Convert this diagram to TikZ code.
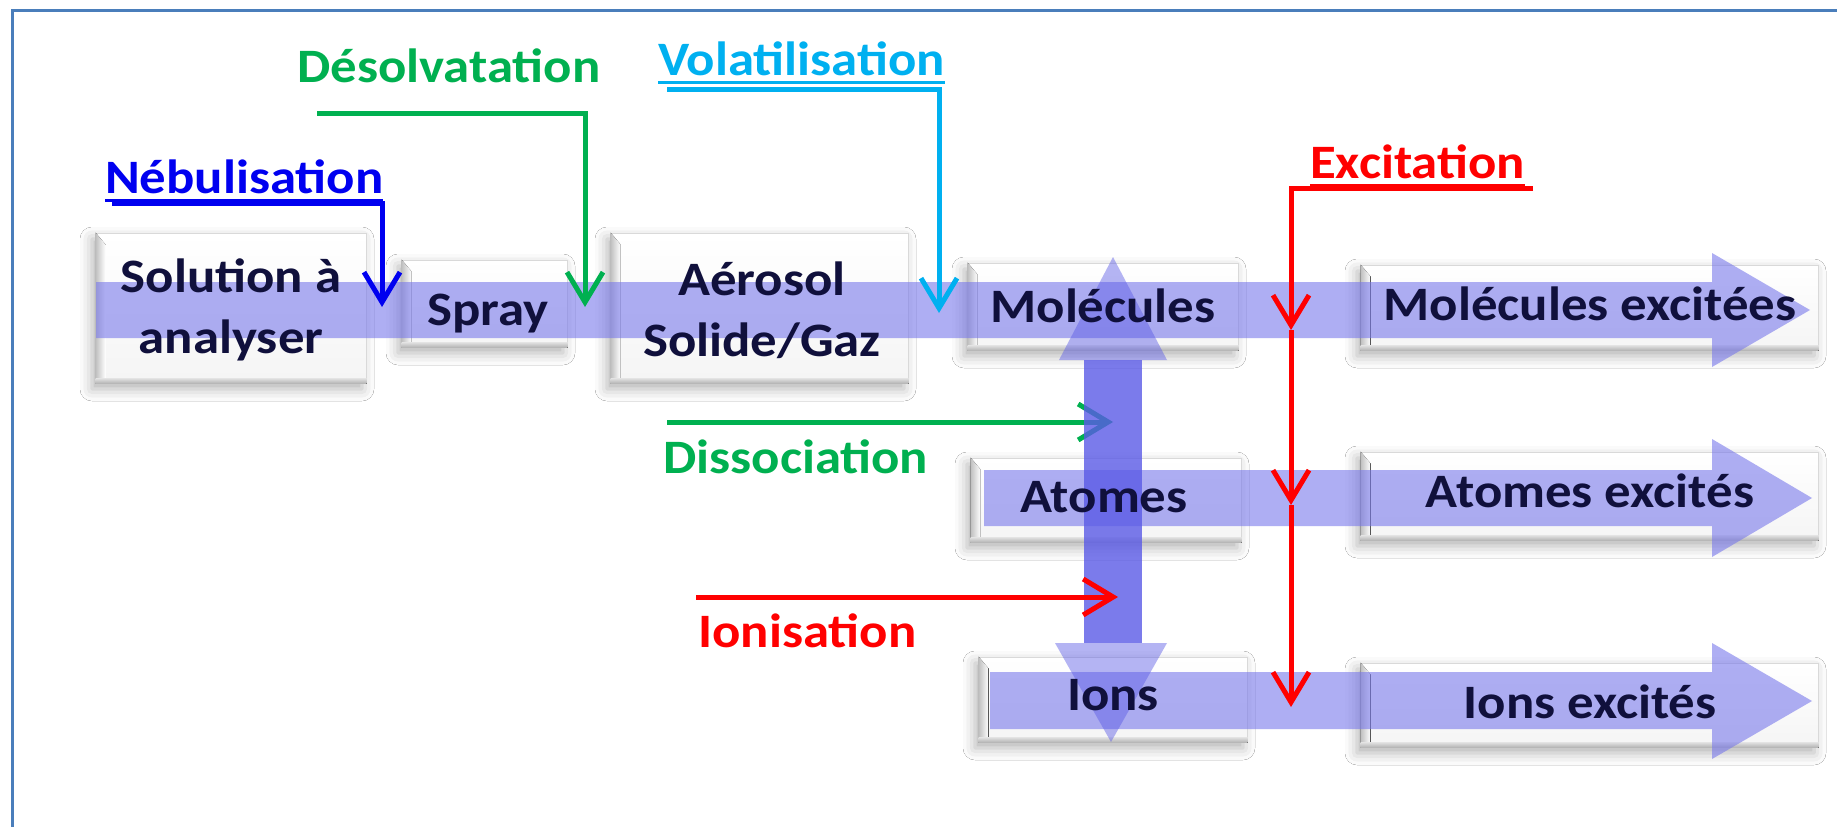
\documentclass[tikz,border=0pt]{standalone}
\usepackage{fontspec}
\newfontfamily\labfont{Carlito}[FakeStretch=1.1]
\usetikzlibrary{arrows.meta,shadows.blur,calc}

\definecolor{framec}{RGB}{74,126,187}
\definecolor{nebc}{RGB}{0,0,240}
\definecolor{desc}{RGB}{0,176,80}
\definecolor{volc}{RGB}{0,176,240}
\definecolor{redc}{RGB}{255,0,0}
\definecolor{bandc}{RGB}{120,120,235}
\definecolor{shaftc}{RGB}{90,90,230}
\definecolor{boxtext}{RGB}{16,16,60}

% underlined label text
\newcommand{\uln}[1]{\setbox0\hbox{#1}\rlap{\raisebox{-8.5pt}{\rule{\wd0}{3pt}}}\box0}

\tikzset{
  bx/.style={rectangle, inner sep=0pt, draw=gray!30, line width=1pt,
    top color=white, bottom color=gray!8,
    blur shadow={shadow xshift=-4pt, shadow yshift=-6pt, shadow blur radius=12pt, shadow opacity=30}},
  band/.style={fill=bandc, fill opacity=0.6},
  boxlab/.style={font=\labfont\bfseries\fontsize{48}{61}\selectfont, text=boxtext, inner sep=0pt, align=center},
  steplab/.style={font=\labfont\bfseries\fontsize{48}{58}\selectfont, inner sep=0pt, anchor=base west},
  conn/.style={line width=5pt, line join=miter},
  tip/.style={-{Straight Barb[length=30pt,width=36pt]}}
}

% bevelled box: name, x0, y0, x1, y1
\newcommand{\bevbox}[5]{%
  \node[bx, minimum width={(#4)-(#2)}, minimum height={(#5)-(#3)}] (#1) at ({((#2)+(#4))/2},{((#3)+(#5))/2}) {};
  \fill[left color=gray!50, right color=white] (#1.north west) -- ++(10,12) -- ($(#1.south west)+(10,-5)$) -- (#1.south west) -- cycle;
  \fill[top color=gray!25, bottom color=gray!60] ($(#1.south west)+(0,-5)$) rectangle (#1.south east);
}

\begin{document}
\begin{tikzpicture}[x=1pt,y=-1pt]
\useasboundingbox (0,0) rectangle (1837,827);
\fill[white] (-10,-10) rectangle (1847,837);
\draw[framec, line width=3pt] (12,840) -- (12,10) -- (1850,10);

% process boxes
\bevbox{sol}{96}{233}{366}{383}
\bevbox{spr}{402}{260}{567}{347}
\bevbox{aer}{611}{233}{908}{383}
\bevbox{mol}{968}{263}{1238}{350}
\bevbox{molx}{1361}{265}{1818}{350}
\bevbox{ato}{971}{458}{1241}{542}
\bevbox{atox}{1361}{452}{1818}{540}
\bevbox{ion}{979}{657}{1247}{742}
\bevbox{ionx}{1361}{663}{1818}{747}

% flow bands
\fill[band] (96,282) -- (1712,282) -- (1712,253) -- (1810,310) -- (1712,367) -- (1712,338) -- (96,338) -- cycle;
\fill[band] (984,470) -- (1712,470) -- (1712,439) -- (1812,498) -- (1712,557) -- (1712,526) -- (984,526) -- cycle;
\fill[band] (990,672) -- (1712,672) -- (1712,643) -- (1812,701) -- (1712,759) -- (1712,729) -- (990,729) -- cycle;

% dissociation input (passes under the vertical arrow)
\node[steplab, text=desc] (dis) at (663,473) {Dissociation};
\coordinate (d1) at (667,422);
\coordinate (d2) at (1113,422);
\draw[conn, desc, tip] (d1) -- (d2);

% vertical double arrow molecules / atoms / ions
\fill[shaftc, opacity=0.8] (1084,360) rectangle (1142,643);
\fill[shaftc, opacity=0.45] (1059,360) -- (1113,257) -- (1167,360) -- cycle;
\fill[shaftc, opacity=0.45] (1055,643) -- (1111,742) -- (1167,643) -- cycle;

% ionisation input
\node[steplab, text=redc] (ioni) at (698,647) {Ionisation};
\coordinate (i1) at (696,597);
\coordinate (i2) at (1118,597);
\draw[conn, redc, tip] (i1) -- (i2);

% box labels
\node[boxlab] (solt) at (231,310) {Solution à\\analyser};
\node[boxlab, anchor=base] (sprt) at (488,325) {Spray};
\node[boxlab] (aert) at (762,310) {Aérosol\\Solide/Gaz};
\node[boxlab, anchor=base] (molt) at (1103,322) {Molécules};
\node[boxlab, anchor=base] (molxt) at (1590,320) {Molécules excitées};
\node[boxlab, anchor=base] (atot) at (1104,512) {Atomes};
\node[boxlab, anchor=base] (atoxt) at (1590,507) {Atomes excités};
\node[boxlab, anchor=base] (iont) at (1113,710) {Ions};
\node[boxlab, anchor=base] (ionxt) at (1590,718) {Ions excités};

% step labels
\node[steplab, text=nebc] (neb) at (105,193) {\uln{Nébulisation}};
\node[steplab, text=desc] (des) at (297,82) {Désolvatation};
\node[steplab, text=volc] (vol) at (658,75) {\uln{Volatilisation}};
\node[steplab, text=redc] (exc) at (1310,178) {\uln{Excitation}};

% step connectors
\coordinate (n1) at (112,203);
\coordinate (n2) at (382,203);
\coordinate (n3) at (382,307);
\draw[conn, nebc, tip] (n1) -- (n2) -- (n3);

\coordinate (s1) at (317,113);
\coordinate (s2) at (585,113);
\coordinate (s3) at (585,307);
\draw[conn, desc, tip] (s1) -- (s2) -- (s3);

\coordinate (v1) at (667,89);
\coordinate (v2) at (939,89);
\coordinate (v3) at (939,313);
\draw[conn, volc, tip] (v1) -- (v2) -- (v3);

\coordinate (e1) at (1533,188);
\coordinate (e2) at (1291,188);
\coordinate (e3) at (1291,330);
\coordinate (e4) at (1291,505);
\coordinate (e5) at (1291,707);
\draw[conn, redc, tip] (e1) -- (e2) -- (e3);
\draw[conn, redc, tip] (e3) -- (e4);
\draw[conn, redc, tip] (e4) -- (e5);
\end{tikzpicture}
\end{document}
